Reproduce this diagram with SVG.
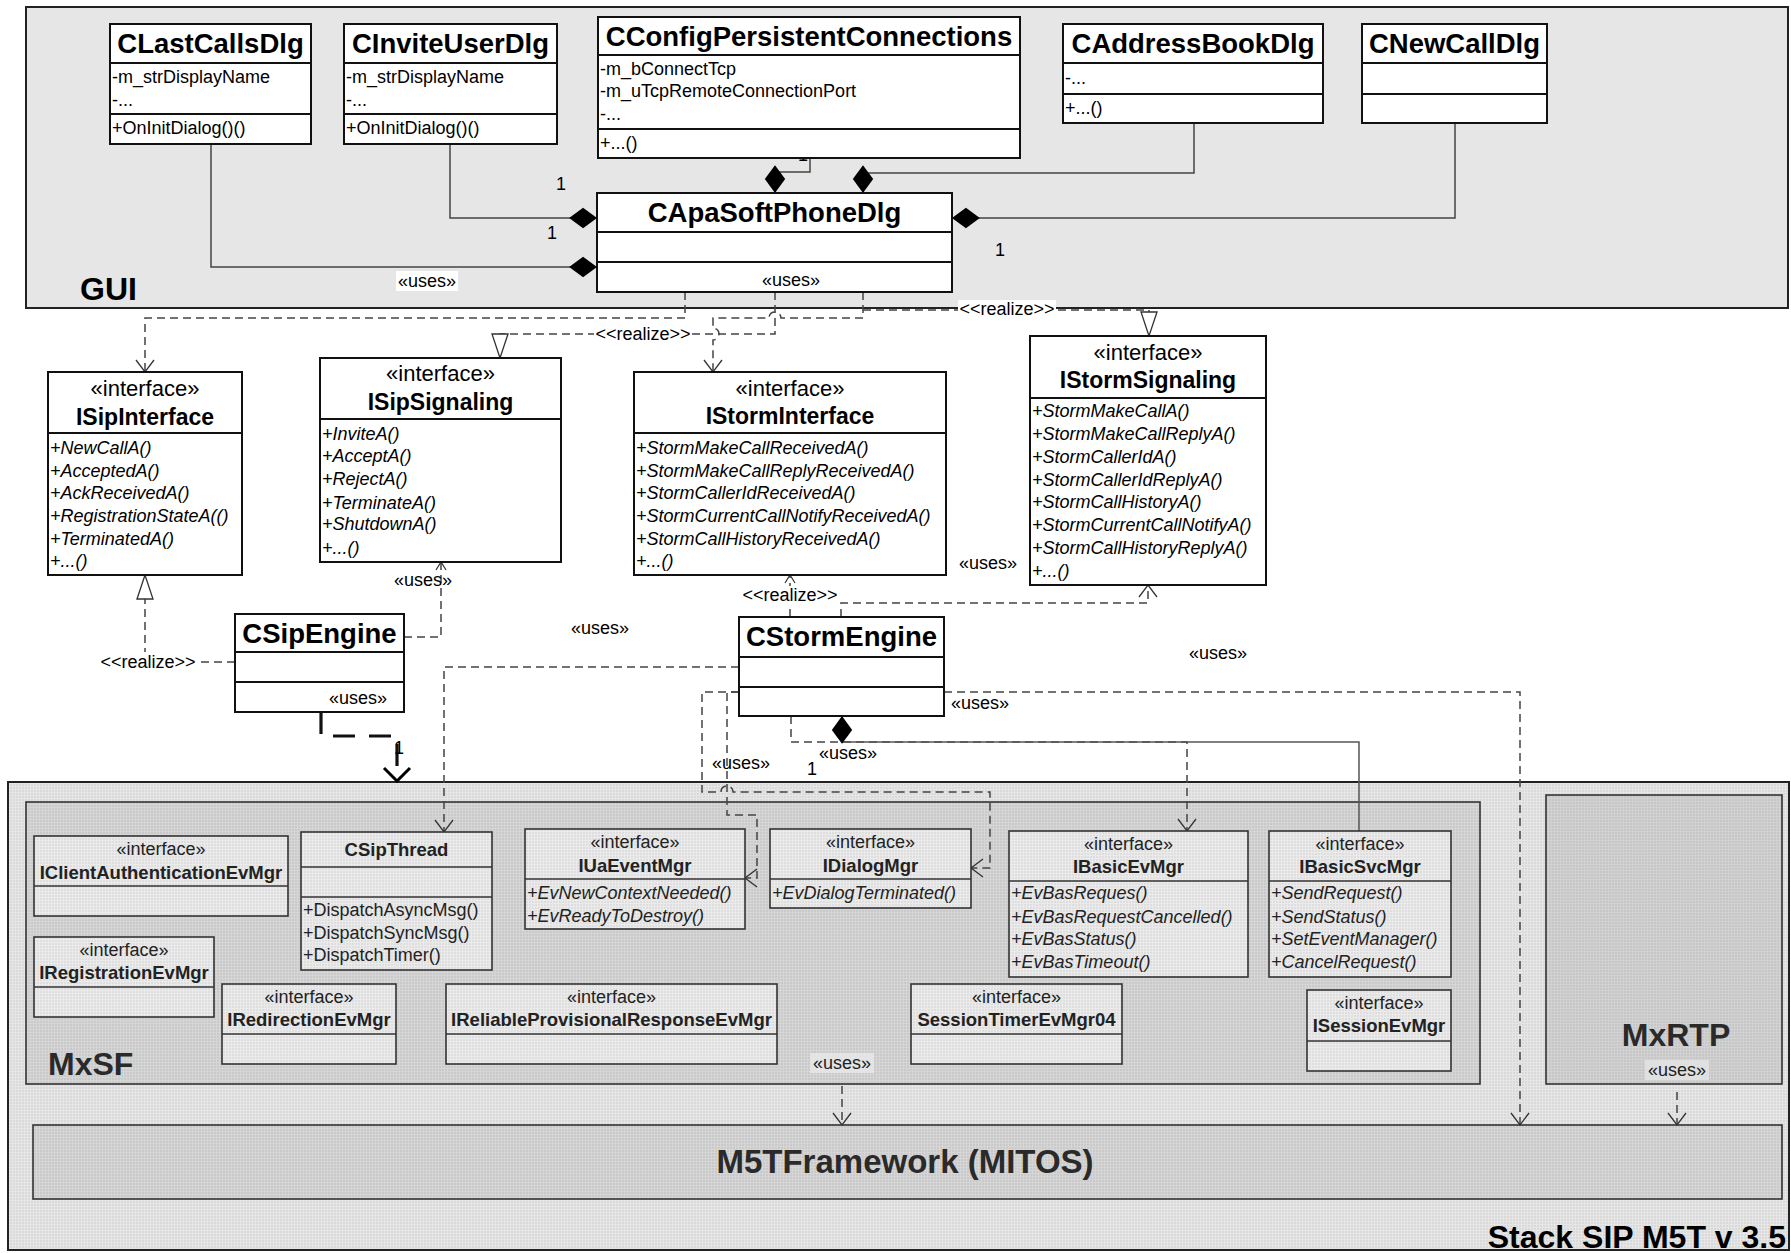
<svg xmlns="http://www.w3.org/2000/svg" width="1791" height="1253" viewBox="0 0 1791 1253">
<style>
text{font-family:"Liberation Sans",Arial,sans-serif;fill:#000}
.b{fill:#fff;stroke:#111;stroke-width:2}
.s{fill:url(#pBox);stroke:#333;stroke-width:1.6}
.sl{stroke:#333;stroke-width:1.6}
.l{stroke:#111;stroke-width:2}
.t28{font-size:27.5px;font-weight:bold;text-anchor:middle}
.t23{font-size:23px;font-weight:bold;text-anchor:middle}
.st{font-size:22px;text-anchor:middle}
.a{font-size:18px}
.m{font-size:18px;font-style:italic}
.lab{font-size:18px;text-anchor:middle}
.si{font-size:18px;text-anchor:middle;fill:#222}
.stt{font-size:18.5px;font-weight:bold;text-anchor:middle;fill:#222}
.sm{font-size:18px;font-style:italic;fill:#222}
.sa{font-size:18px;fill:#222}
.big{font-size:32px;font-weight:bold;fill:#2a2a2a}
.c{fill:none;stroke:#444;stroke-width:1.5}
.d{fill:none;stroke:#444;stroke-width:1.5;stroke-dasharray:8 5}
</style>
<defs>
<pattern id="pOut" width="3" height="3" patternUnits="userSpaceOnUse"><rect width="3" height="3" fill="#d9d9d9"/><path d="M0,0.5H3M0.5,0V3" stroke="#e6e6e6" stroke-width="1"/></pattern>
<pattern id="pMx" width="3" height="3" patternUnits="userSpaceOnUse"><rect width="3" height="3" fill="#c9c9c9"/><path d="M0,0.5H3M0.5,0V3" stroke="#d6d6d6" stroke-width="1"/></pattern>
<pattern id="pBox" width="3" height="3" patternUnits="userSpaceOnUse"><rect width="3" height="3" fill="#dedede"/><path d="M0,0.5H3M0.5,0V3" stroke="#ebebeb" stroke-width="1"/></pattern>
<pattern id="pRtp" width="3" height="3" patternUnits="userSpaceOnUse"><rect width="3" height="3" fill="#c6c6c6"/><path d="M0,0.5H3M0.5,0V3" stroke="#d2d2d2" stroke-width="1"/></pattern>
<marker id="dia" markerUnits="userSpaceOnUse" markerWidth="30" markerHeight="24" viewBox="-1 -11 28 22" refX="0" refY="0" orient="auto"><path d="M0,0 L13,-9.5 L26,0 L13,9.5 Z" fill="#000"/></marker>
<marker id="arr" markerUnits="userSpaceOnUse" markerWidth="16" markerHeight="24" viewBox="-14 -11 16 22" refX="0" refY="0" orient="auto"><path d="M-12,-9 L0,0 L-12,9" fill="none" stroke="#333" stroke-width="1.3"/></marker>
<marker id="arrS" markerUnits="userSpaceOnUse" markerWidth="12" markerHeight="14" viewBox="-10 -7 12 14" refX="0" refY="0" orient="auto"><path d="M-8,-5 L0,0 L-8,5" fill="none" stroke="#333" stroke-width="1.2"/></marker>
<marker id="arrT" markerUnits="userSpaceOnUse" markerWidth="18" markerHeight="32" viewBox="-16 -15 18 30" refX="0" refY="0" orient="auto"><path d="M-13,-13 L0,0 L-13,13" fill="none" stroke="#000" stroke-width="3"/></marker>
<marker id="tri" markerUnits="userSpaceOnUse" markerWidth="28" markerHeight="20" viewBox="-26 -10 28 20" refX="0" refY="0" orient="auto"><path d="M-24,-8 L0,0 L-24,8 Z" fill="#fff" stroke="#333" stroke-width="1.3"/></marker>
</defs>
<rect width="1791" height="1253" fill="#fff"/>

<!-- packages -->
<g id="pkg-gui">
<rect x="26" y="7" width="1762" height="301" fill="#e6e6e6" stroke="#222" stroke-width="2"/>
<text x="80" y="300" class="big" style="fill:#000">GUI</text>
</g>
<g id="pkg-stack">
<rect x="8" y="782" width="1781" height="468" fill="url(#pOut)" stroke="#222" stroke-width="2"/>
<text x="1786" y="1248" class="big" text-anchor="end" style="fill:#000">Stack SIP M5T v 3.5</text>
</g>
<g id="pkg-mxsf">
<rect x="26" y="802" width="1454" height="282" fill="url(#pMx)" stroke="#333" stroke-width="1.6"/>
<text x="48" y="1075" class="big">MxSF</text>
</g>
<g id="pkg-mxrtp">
<rect x="1546" y="795" width="236" height="289" fill="url(#pRtp)" stroke="#333" stroke-width="1.6"/>
<text x="1676" y="1046" class="big" text-anchor="middle">MxRTP</text>
</g>
<g id="pkg-m5t">
<rect x="33" y="1125" width="1749" height="74" fill="url(#pMx)" stroke="#333" stroke-width="1.6"/>
<text x="905" y="1173" class="big" text-anchor="middle" style="font-size:33px">M5TFramework (MITOS)</text>
</g>

<!-- connectors -->
<g id="connectors">
<!-- GUI compositions -->
<path class="c" d="M597,267 H211 V144" marker-start="url(#dia)"/>
<path class="c" d="M597,218 H450 V144" marker-start="url(#dia)"/>
<path class="c" d="M775,193 V172 H810 V158" marker-start="url(#dia)"/>
<path class="c" d="M863,193 V173 H1194 V123" marker-start="url(#dia)"/>
<path class="c" d="M952,218 H1455 V123" marker-start="url(#dia)"/>
<!-- CApaSoftPhoneDlg to interfaces -->
<path class="d" d="M685,292 V318 H145 V372" marker-end="url(#arr)"/>
<path class="d" d="M863,292 V318 H781 a6,6 0 0 0 -12,0 H713 V328 a6,6 0 0 1 0,12 V372" marker-end="url(#arr)"/>
<path class="d" d="M775,292 V334 H500 V358" marker-end="url(#tri)"/>
<path class="d" d="M863,310 H1149 V336" marker-end="url(#tri)"/>
<!-- CSipEngine -->
<path class="d" d="M235,662 H197"/>
<path class="d" d="M99,662 H145 V575" marker-end="url(#tri)"/>
<path class="d" d="M404,637 H441 V562" marker-end="url(#arrS)"/>
<path d="M321,712 V736 H397 V781" fill="none" stroke="#111" stroke-width="3.2" stroke-dasharray="22 14" marker-end="url(#arrT)"/>
<!-- CStormEngine -->
<path class="d" d="M790,617 V575" marker-end="url(#arrS)"/>
<path class="d" d="M841,617 V603 H1148 V585" marker-end="url(#arr)"/>
<path class="d" d="M739,667 H444 V832" marker-end="url(#arr)"/>
<path class="d" d="M739,692 H702 V792 H721 a6,6 0 0 1 12,0 H990 V868 H971" marker-end="url(#arr)"/>
<path class="d" d="M739,692 H727 V815 H757 V878 H745" marker-end="url(#arr)"/>
<path class="d" d="M944,692 H1520 V1125" marker-end="url(#arr)"/>
<path class="d" d="M791,716 V742 H1187 V831" marker-end="url(#arr)"/>
<path class="c" d="M842,716 V742 H1359 V831" marker-start="url(#dia)" style="stroke:#555"/>
<!-- inside stack -->
<path class="d" d="M842,1086 V1125" marker-end="url(#arr)"/>
<path class="d" d="M1677,1092 V1125" marker-end="url(#arr)"/>
</g>

<!-- labels on connectors -->
<g id="labels">
<rect x="396" y="271" width="62" height="20" fill="#fff"/>
<text x="427" y="287" class="lab">«uses»</text>
<rect x="958" y="300" width="98" height="18" fill="#fff"/>
<text x="1007" y="315" class="lab">&lt;&lt;realize&gt;&gt;</text>
<rect x="594" y="325" width="98" height="18" fill="#fff"/>
<text x="643" y="340" class="lab">&lt;&lt;realize&gt;&gt;</text>
<rect x="98" y="652" width="100" height="20" fill="#fff"/>
<text x="148" y="668" class="lab">&lt;&lt;realize&gt;&gt;</text>
<rect x="741" y="586" width="98" height="18" fill="#fff"/>
<text x="790" y="601" class="lab">&lt;&lt;realize&gt;&gt;</text>
<text x="561" y="190" class="lab">1</text>
<text x="552" y="239" class="lab">1</text>
<text x="803" y="161" class="lab">1</text>
<text x="893" y="153" class="lab">1</text>
<text x="1000" y="256" class="lab">1</text>
<text x="812" y="775" class="lab">1</text>
<text x="399" y="754" class="lab">1</text>
<text x="423" y="586" class="lab">«uses»</text>
<text x="600" y="634" class="lab">«uses»</text>
<text x="988" y="569" class="lab">«uses»</text>
<text x="1218" y="659" class="lab">«uses»</text>
<text x="980" y="709" class="lab">«uses»</text>
<text x="741" y="769" class="lab">«uses»</text>
<text x="848" y="759" class="lab">«uses»</text>
<rect x="810" y="1053" width="64" height="20" fill="#e4e4e4"/>
<text x="842" y="1069" class="si">«uses»</text>
<rect x="1645" y="1060" width="64" height="20" fill="#e0e0e0"/>
<text x="1677" y="1076" class="si">«uses»</text>
</g>

<!-- GUI nodes -->
<g id="CLastCallsDlg">
<rect class="b" x="110" y="24" width="201" height="120"/>
<path class="l" d="M110,63 H311 M110,114 H311"/>
<text x="210.5" y="53" class="t28">CLastCallsDlg</text>
<text x="112" y="83" class="a">-m_strDisplayName</text>
<text x="112" y="106" class="a">-...</text>
<text x="112" y="134" class="a">+OnInitDialog()()</text>
</g>
<g id="CInviteUserDlg">
<rect class="b" x="344" y="24" width="213" height="120"/>
<path class="l" d="M344,63 H557 M344,114 H557"/>
<text x="450.5" y="53" class="t28">CInviteUserDlg</text>
<text x="346" y="83" class="a">-m_strDisplayName</text>
<text x="346" y="106" class="a">-...</text>
<text x="346" y="134" class="a">+OnInitDialog()()</text>
</g>
<g id="CConfigPersistentConnections">
<rect class="b" x="598" y="17" width="422" height="141"/>
<path class="l" d="M598,55 H1020 M598,129 H1020"/>
<text x="809" y="46" class="t28">CConfigPersistentConnections</text>
<text x="600" y="75" class="a">-m_bConnectTcp</text>
<text x="600" y="97" class="a">-m_uTcpRemoteConnectionPort</text>
<text x="600" y="120" class="a">-...</text>
<text x="600" y="149" class="a">+...()</text>
</g>
<g id="CAddressBookDlg">
<rect class="b" x="1063" y="24" width="260" height="99"/>
<path class="l" d="M1063,63 H1323 M1063,94 H1323"/>
<text x="1193" y="53" class="t28">CAddressBookDlg</text>
<text x="1065" y="84" class="a">-...</text>
<text x="1065" y="114" class="a">+...()</text>
</g>
<g id="CNewCallDlg">
<rect class="b" x="1362" y="24" width="185" height="99"/>
<path class="l" d="M1362,63 H1547 M1362,94 H1547"/>
<text x="1454.5" y="53" class="t28">CNewCallDlg</text>
</g>
<g id="CApaSoftPhoneDlg">
<rect class="b" x="597" y="193" width="355" height="99"/>
<path class="l" d="M597,232 H952 M597,262 H952"/>
<text x="774.5" y="222" class="t28">CApaSoftPhoneDlg</text>
<text x="791" y="286" class="lab">«uses»</text>
</g>

<!-- interfaces -->
<g id="ISipInterface">
<rect class="b" x="48" y="372" width="194" height="203"/>
<path class="l" d="M48,433 H242"/>
<text x="145" y="396" class="st">«interface»</text>
<text x="145" y="425" class="t23">ISipInterface</text>
<text x="50" y="454" class="m">+NewCallA()</text>
<text x="50" y="477" class="m">+AcceptedA()</text>
<text x="50" y="499" class="m">+AckReceivedA()</text>
<text x="50" y="522" class="m">+RegistrationStateA(()</text>
<text x="50" y="545" class="m">+TerminatedA()</text>
<text x="50" y="567" class="m">+...()</text>
</g>
<g id="ISipSignaling">
<rect class="b" x="320" y="358" width="241" height="204"/>
<path class="l" d="M320,419 H561"/>
<text x="440.5" y="381" class="st">«interface»</text>
<text x="440.5" y="410" class="t23">ISipSignaling</text>
<text x="322" y="440" class="m">+InviteA()</text>
<text x="322" y="462" class="m">+AcceptA()</text>
<text x="322" y="485" class="m">+RejectA()</text>
<text x="322" y="509" class="m">+TerminateA()</text>
<text x="322" y="530" class="m">+ShutdownA()</text>
<text x="322" y="554" class="m">+...()</text>
</g>
<g id="IStormInterface">
<rect class="b" x="634" y="372" width="312" height="203"/>
<path class="l" d="M634,433 H946"/>
<text x="790" y="396" class="st">«interface»</text>
<text x="790" y="424" class="t23">IStormInterface</text>
<text x="636" y="454" class="m">+StormMakeCallReceivedA()</text>
<text x="636" y="477" class="m">+StormMakeCallReplyReceivedA()</text>
<text x="636" y="499" class="m">+StormCallerIdReceivedA()</text>
<text x="636" y="522" class="m">+StormCurrentCallNotifyReceivedA()</text>
<text x="636" y="545" class="m">+StormCallHistoryReceivedA()</text>
<text x="636" y="567" class="m">+...()</text>
</g>
<g id="IStormSignaling">
<rect class="b" x="1030" y="336" width="236" height="249"/>
<path class="l" d="M1030,398 H1266"/>
<text x="1148" y="360" class="st">«interface»</text>
<text x="1148" y="388" class="t23">IStormSignaling</text>
<text x="1032" y="417" class="m">+StormMakeCallA()</text>
<text x="1032" y="440" class="m">+StormMakeCallReplyA()</text>
<text x="1032" y="463" class="m">+StormCallerIdA()</text>
<text x="1032" y="486" class="m">+StormCallerIdReplyA()</text>
<text x="1032" y="508" class="m">+StormCallHistoryA()</text>
<text x="1032" y="531" class="m">+StormCurrentCallNotifyA()</text>
<text x="1032" y="554" class="m">+StormCallHistoryReplyA()</text>
<text x="1032" y="577" class="m">+...()</text>
</g>
<g id="CSipEngine">
<rect class="b" x="235" y="614" width="169" height="98"/>
<path class="l" d="M235,652 H404 M235,682 H404"/>
<text x="319.5" y="643" class="t28">CSipEngine</text>
<text x="358" y="704" class="lab">«uses»</text>
</g>
<g id="CStormEngine">
<rect class="b" x="739" y="617" width="205" height="99"/>
<path class="l" d="M739,657 H944 M739,687 H944"/>
<text x="841.5" y="646" class="t28">CStormEngine</text>
</g>

<!-- MxSF nodes -->
<g id="IClientAuthenticationEvMgr">
<rect class="s" x="34" y="836" width="254" height="80"/>
<path class="sl" d="M34,886 H288"/>
<text x="161" y="855" class="si">«interface»</text>
<text x="161" y="879" class="stt">IClientAuthenticationEvMgr</text>
</g>
<g id="CSipThread">
<rect class="s" x="301" y="832" width="191" height="138"/>
<path class="sl" d="M301,867 H492 M301,897 H492"/>
<text x="396.5" y="856" class="stt">CSipThread</text>
<text x="303" y="916" class="sa">+DispatchAsyncMsg()</text>
<text x="303" y="939" class="sa">+DispatchSyncMsg()</text>
<text x="303" y="961" class="sa">+DispatchTimer()</text>
</g>
<g id="IRegistrationEvMgr">
<rect class="s" x="34" y="937" width="180" height="80"/>
<path class="sl" d="M34,987 H214"/>
<text x="124" y="956" class="si">«interface»</text>
<text x="124" y="979" class="stt">IRegistrationEvMgr</text>
</g>
<g id="IRedirectionEvMgr">
<rect class="s" x="222" y="984" width="174" height="80"/>
<path class="sl" d="M222,1034 H396"/>
<text x="309" y="1003" class="si">«interface»</text>
<text x="309" y="1026" class="stt">IRedirectionEvMgr</text>
</g>
<g id="IReliableProvisionalResponseEvMgr">
<rect class="s" x="446" y="984" width="331" height="80"/>
<path class="sl" d="M446,1034 H777"/>
<text x="611.5" y="1003" class="si">«interface»</text>
<text x="611.5" y="1026" class="stt">IReliableProvisionalResponseEvMgr</text>
</g>
<g id="SessionTimerEvMgr04">
<rect class="s" x="911" y="984" width="211" height="80"/>
<path class="sl" d="M911,1034 H1122"/>
<text x="1016.5" y="1003" class="si">«interface»</text>
<text x="1016.5" y="1026" class="stt">SessionTimerEvMgr04</text>
</g>
<g id="IUaEventMgr">
<rect class="s" x="525" y="829" width="220" height="100"/>
<path class="sl" d="M525,879 H745"/>
<text x="635" y="848" class="si">«interface»</text>
<text x="635" y="872" class="stt">IUaEventMgr</text>
<text x="527" y="899" class="sm">+EvNewContextNeeded()</text>
<text x="527" y="922" class="sm">+EvReadyToDestroy()</text>
</g>
<g id="IDialogMgr">
<rect class="s" x="770" y="829" width="201" height="79"/>
<path class="sl" d="M770,879 H971"/>
<text x="870.5" y="848" class="si">«interface»</text>
<text x="870.5" y="872" class="stt">IDialogMgr</text>
<text x="772" y="899" class="sm">+EvDialogTerminated()</text>
</g>
<g id="IBasicEvMgr">
<rect class="s" x="1009" y="831" width="239" height="146"/>
<path class="sl" d="M1009,881 H1248"/>
<text x="1128.5" y="850" class="si">«interface»</text>
<text x="1128.5" y="873" class="stt">IBasicEvMgr</text>
<text x="1011" y="899" class="sm">+EvBasReques()</text>
<text x="1011" y="923" class="sm">+EvBasRequestCancelled()</text>
<text x="1011" y="945" class="sm">+EvBasStatus()</text>
<text x="1011" y="968" class="sm">+EvBasTimeout()</text>
</g>
<g id="IBasicSvcMgr">
<rect class="s" x="1269" y="831" width="182" height="146"/>
<path class="sl" d="M1269,881 H1451"/>
<text x="1360" y="850" class="si">«interface»</text>
<text x="1360" y="873" class="stt">IBasicSvcMgr</text>
<text x="1271" y="899" class="sm">+SendRequest()</text>
<text x="1271" y="923" class="sm">+SendStatus()</text>
<text x="1271" y="945" class="sm">+SetEventManager()</text>
<text x="1271" y="968" class="sm">+CancelRequest()</text>
</g>
<g id="ISessionEvMgr">
<rect class="s" x="1307" y="990" width="144" height="81"/>
<path class="sl" d="M1307,1041 H1451"/>
<text x="1379" y="1009" class="si">«interface»</text>
<text x="1379" y="1032" class="stt">ISessionEvMgr</text>
</g>
</svg>
